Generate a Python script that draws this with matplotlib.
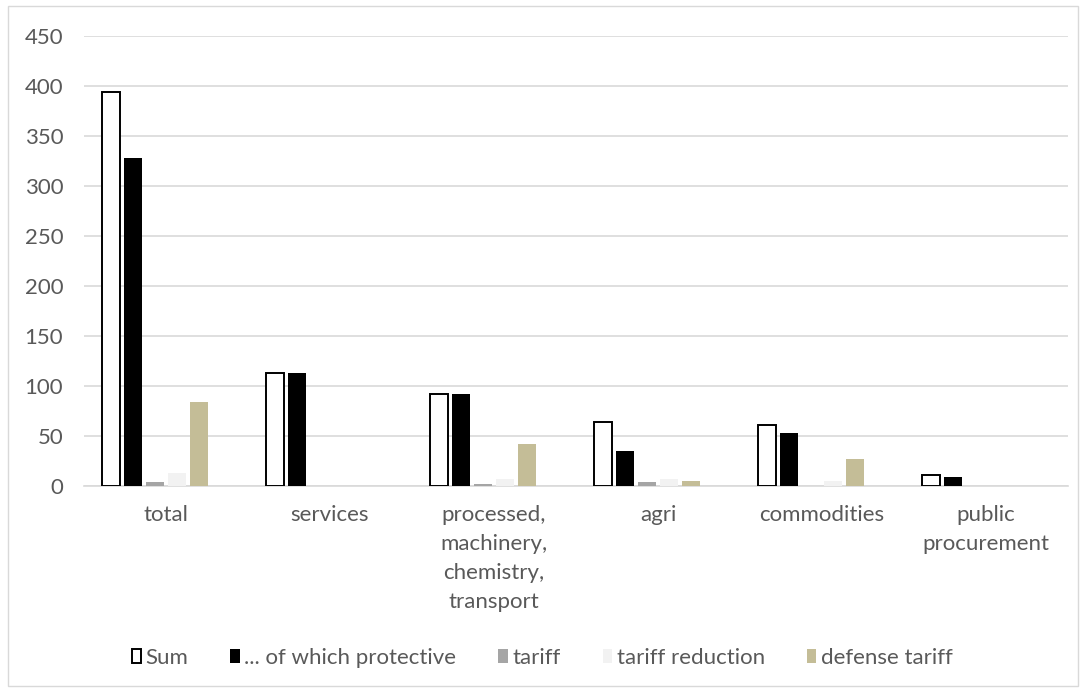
import numpy as np
import matplotlib
matplotlib.use("Agg")
import matplotlib.pyplot as plt
from matplotlib.patches import Rectangle

plt.rcParams['font.family'] = ['Lato', 'DejaVu Sans']

categories = ["total", "services", "processed,\nmachinery,\nchemistry,\ntransport",
              "agri", "commodities", "public\nprocurement"]
series_names = ["Sum", "... of which protective", "tariff", "tariff reduction", "defense tariff"]

sum_vals = [394, 113, 92, 64, 61, 11]
protective = [328, 113, 92, 35, 53, 9]
tariff = [4, 0, 2, 4, 0, 0]
tariff_reduction = [13, 0, 7, 7, 5, 0]
defense_tariff = [84, 0, 42, 5, 27, 0]

values = [sum_vals, protective, tariff, tariff_reduction, defense_tariff]
faces = ["white", "black", "#a5a5a5", "#f2f2f2", "#c4bd97"]
edges = ["black", "black", "#a5a5a5", "#f2f2f2", "#c4bd97"]
lws = [1.4, 0, 0, 0, 0]

fig = plt.figure(figsize=(10.84, 6.91), dpi=100)
ax = fig.add_axes([0.0775, 0.297, 0.9077, 0.651])

x = np.arange(len(categories))
step = 0.134
width = 0.11
for i in range(len(values)):
    ax.bar(x + (i - 2.5) * step, values[i], width, color=faces[i], edgecolor=edges[i],
           linewidth=lws[i], label=series_names[i], zorder=3)

ax.set_xlim(-0.5, 5.5)
ax.set_ylim(0, 450)
ax.set_yticks(np.arange(0, 451, 50))
ax.set_xticks(x)
ax.set_xticklabels(categories, linespacing=1.55)
ax.tick_params(axis='both', length=0, labelsize=16, colors="#595959")
ax.tick_params(axis='y', pad=15)
ax.tick_params(axis='x', pad=14)

for s in ['left', 'right', 'top']:
    ax.spines[s].set_visible(False)
ax.spines['bottom'].set_color("#d9d9d9")
ax.spines['bottom'].set_linewidth(1.2)
ax.set_axisbelow(True)
ax.yaxis.grid(color="#d9d9d9", linewidth=1.2)

fig.legend(loc="center", bbox_to_anchor=(0.5, 1 - 658 / 691), ncol=5, frameon=False,
           fontsize=16, handlelength=0.42, handleheight=0.6, handletextpad=0.2,
           columnspacing=1.9, labelcolor="#595959")

fig.patches.append(Rectangle((8 / 1084, 1 - 686 / 691), 1070 / 1084, 680 / 691,
                             transform=fig.transFigure, fill=False,
                             edgecolor="#d9d9d9", linewidth=1))

plt.savefig("out.png", dpi=100)
